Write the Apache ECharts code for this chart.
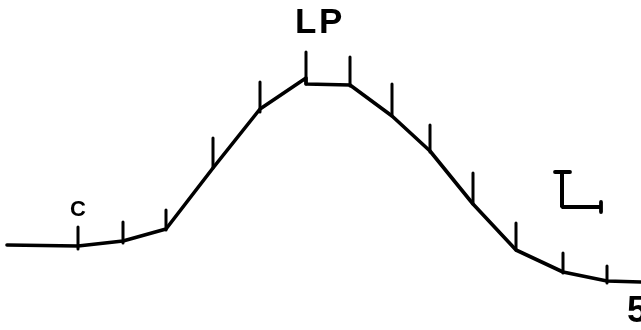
<!DOCTYPE html>
<html><head><meta charset="utf-8">
<script src="https://cdn.jsdelivr.net/npm/echarts@6/dist/echarts.min.js"></script>
<style>html,body{margin:0;padding:0;background:#fff}#c{width:641px;height:330px}</style>
</head><body><div id="c"></div>
<script>
// Trace vertices (x position, vertical level; level measured downward from top)
const traceX = [7, 78, 78, 123, 166, 213, 260, 306, 306, 350, 392, 430, 473, 516, 563, 607, 641];
const traceY = [245, 246, 248, 241, 229, 168, 109, 78, 84, 85, 116, 151, 204, 250, 272, 281, 282];
// Vertical time ticks along the trace
const tickX = [78, 123, 166, 213, 260, 306, 350, 392, 430, 473, 516, 563, 607];
const tickTop = [227, 222, 210, 138, 82, 52, 57, 84, 125, 173, 223, 253, 266];
const tickBottom = [249, 243, 230, 168, 112, 84, 86, 116, 152, 204, 250, 273, 283];
// Scale bar
const scaleX = [562, 562, 601];
const scaleY = [172, 207, 207];
const capX1 = [555, 601];
const capY1 = [172, 202];
const capX2 = [570, 601];
const capY2 = [172, 212];
// Labels
const labelText = ['C', 'L', 'P', '5'];
const labelX = [78, 295, 319, 627];
const labelY = [210, 23, 23, 312];
const labelSize = [22, 35, 35, 36];
const labelAlign = ['center', 'left', 'left', 'left'];

const chart = echarts.init(document.getElementById('c'), null, {renderer: 'canvas'});
const segSeries = (x1, y1, x2, y2, w) => ({
  type: 'custom',
  coordinateSystem: 'cartesian2d',
  data: x1.map((x, i) => [x, y1[i], x2[i], y2[i]]),
  renderItem: (params, api) => {
    const a = api.coord([api.value(0), api.value(1)]);
    const b = api.coord([api.value(2), api.value(3)]);
    return {type: 'line', shape: {x1: a[0], y1: a[1], x2: b[0], y2: b[1]},
      style: {stroke: '#000', lineWidth: w, lineCap: 'round'}};
  },
  silent: true
});
chart.setOption({
  animation: false,
  backgroundColor: '#fff',
  grid: {left: 0, right: 0, top: 0, bottom: 0},
  xAxis: {type: 'value', min: 0, max: 641, show: false},
  yAxis: {type: 'value', min: 0, max: 330, inverse: true, show: false},
  series: [
    {type: 'line', data: traceX.map((x, i) => [x, traceY[i]]), symbol: 'none',
      lineStyle: {color: '#000', width: 3.6, join: 'round', cap: 'round'}, silent: true},
    segSeries(tickX, tickTop, tickX, tickBottom, 3),
    {type: 'line', data: scaleX.map((x, i) => [x, scaleY[i]]), symbol: 'none',
      lineStyle: {color: '#000', width: 4}, silent: true},
    segSeries(capX1, capY1, capX2, capY2, 3.8),
    {type: 'custom', coordinateSystem: 'cartesian2d', silent: true,
      data: labelText.map((t, i) => [labelX[i], labelY[i], i]),
      renderItem: (params, api) => {
        const i = api.value(2);
        const p = api.coord([api.value(0), api.value(1)]);
        return {type: 'text', x: p[0], y: p[1],
          style: {text: labelText[i], fill: '#000', fontSize: labelSize[i], fontWeight: 'bold',
            fontFamily: 'Liberation Sans, Arial, sans-serif', align: labelAlign[i], verticalAlign: 'middle'}};
      }
    }
  ]
});
</script></body></html>
